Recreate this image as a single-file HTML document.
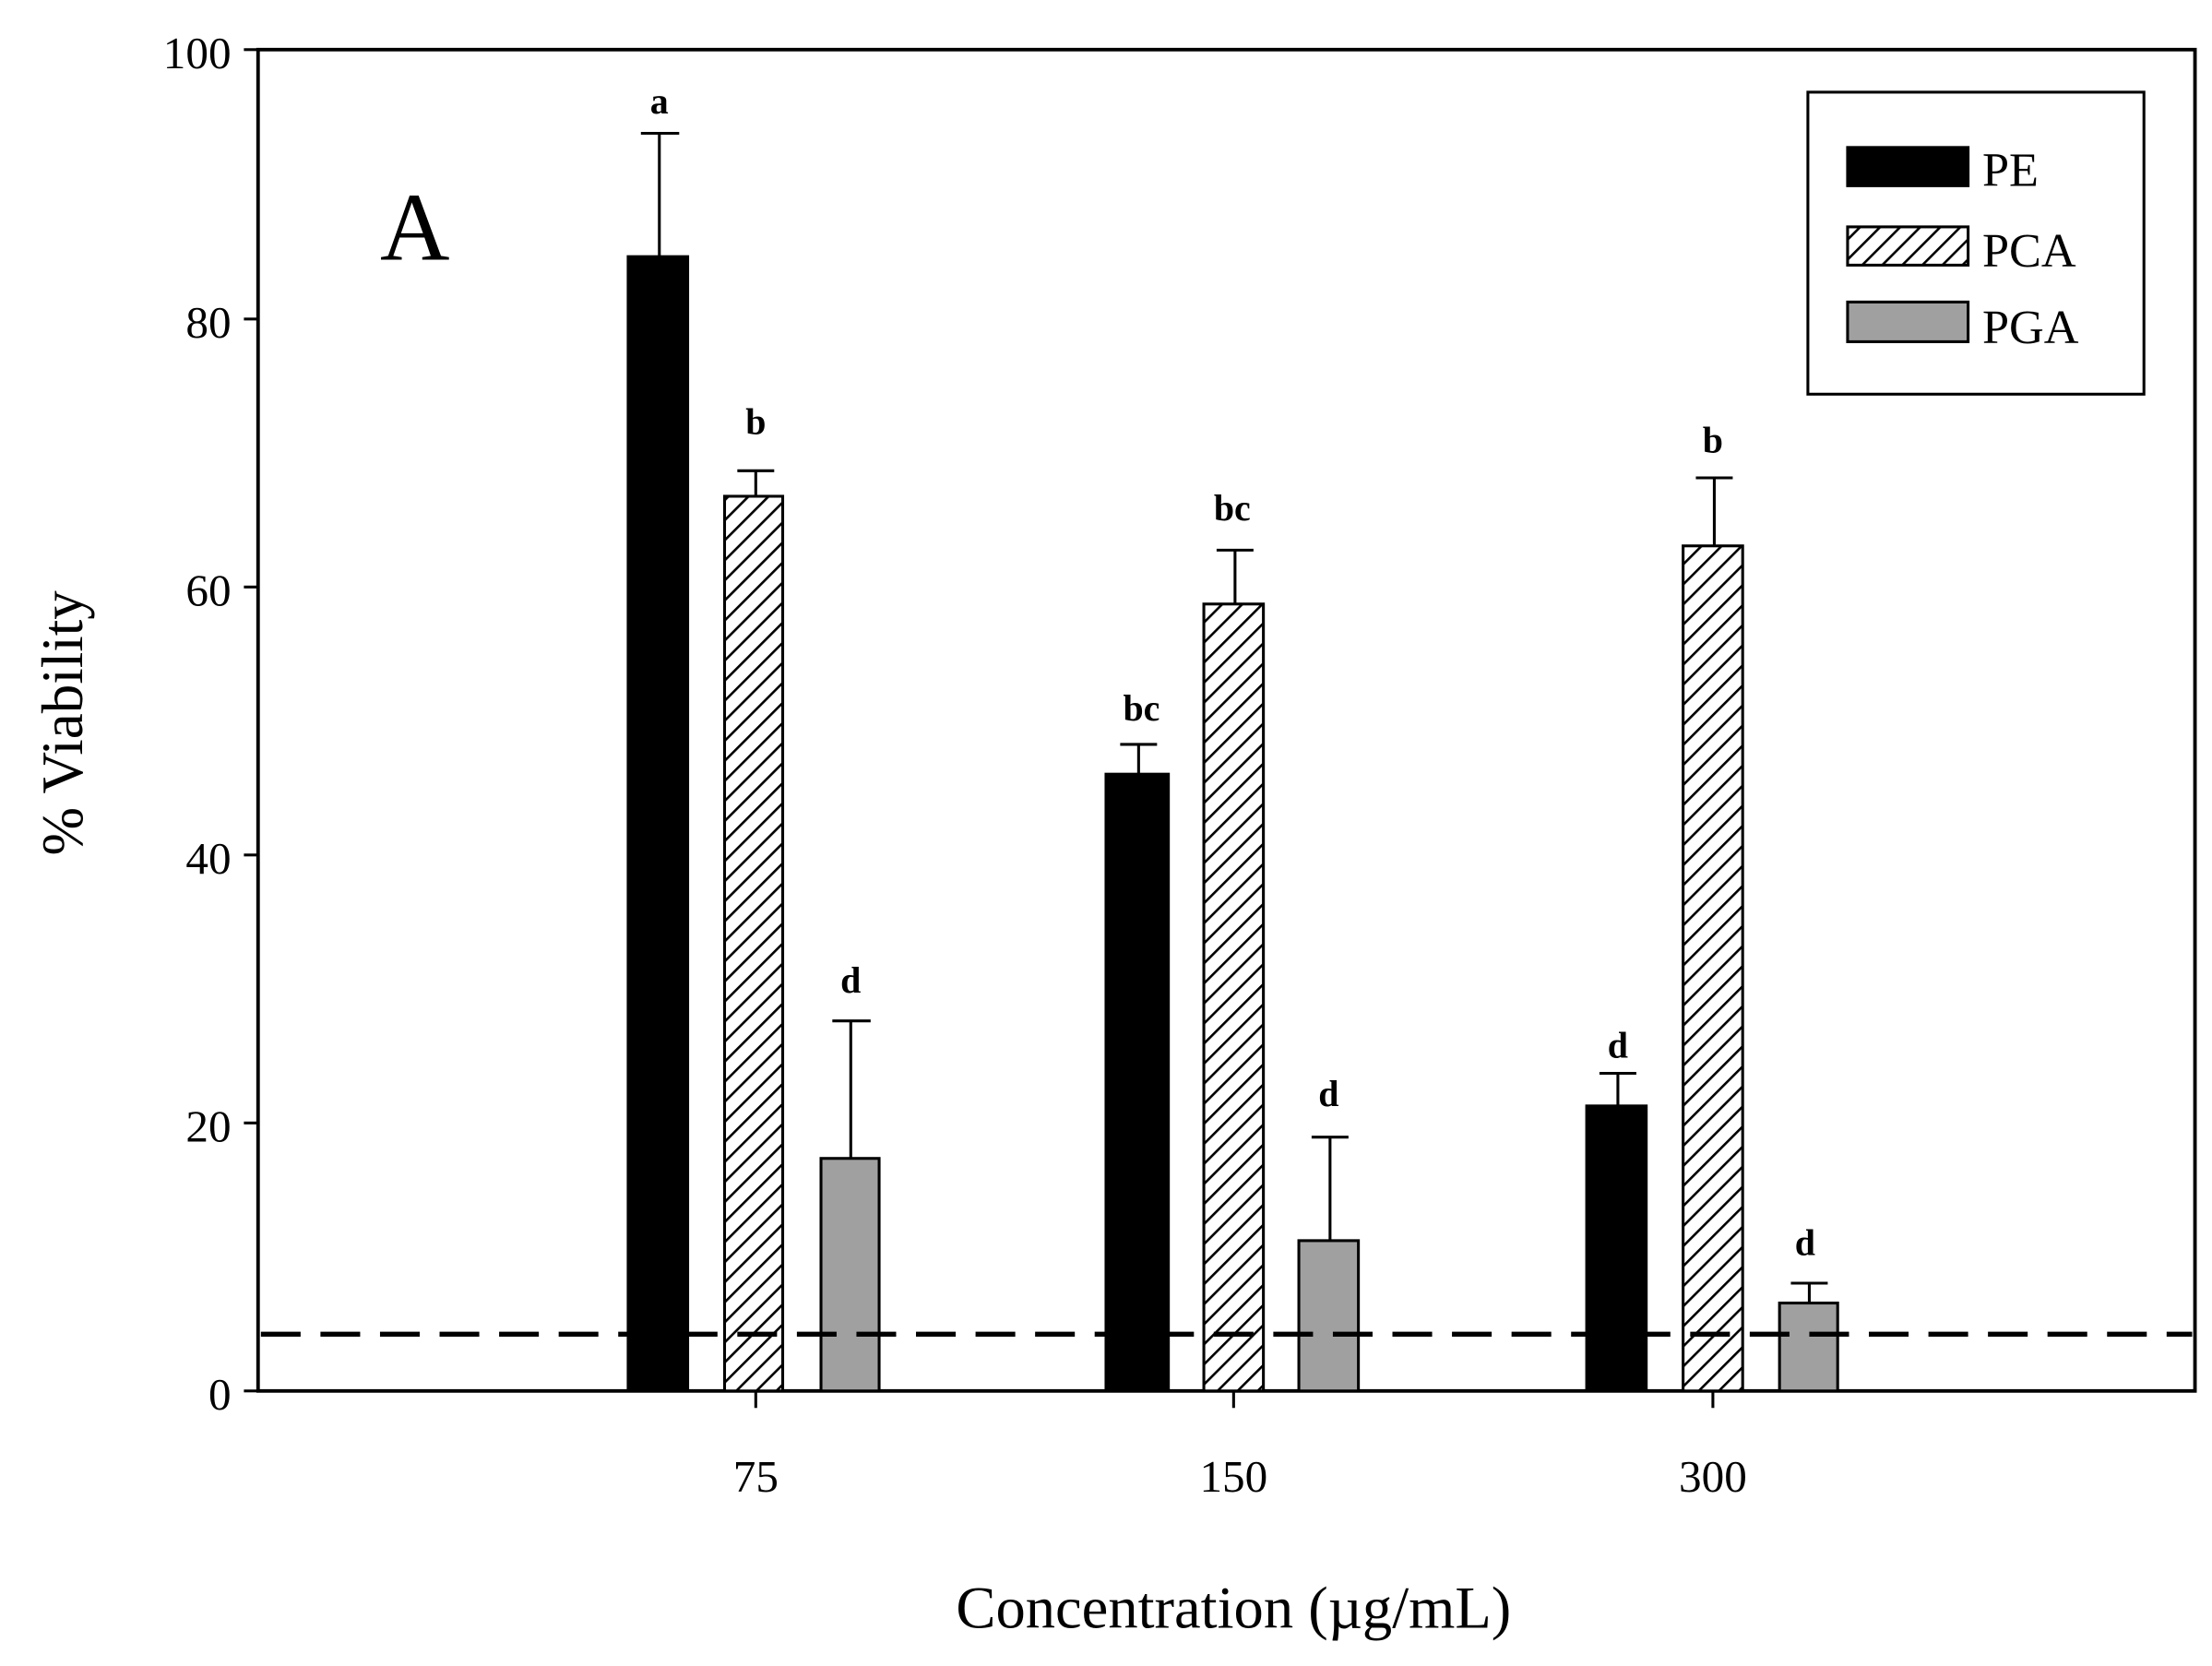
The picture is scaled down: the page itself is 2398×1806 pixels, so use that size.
<!DOCTYPE html>
<html><head><meta charset="utf-8"><style>
html,body{margin:0;padding:0;background:#fff;}
svg{display:block;}
text{font-family:"Liberation Serif",serif;fill:#000;}
</style></head><body>
<svg width="2398" height="1806" viewBox="0 0 1560 1175" preserveAspectRatio="none" xmlns="http://www.w3.org/2000/svg">
<defs>
<pattern id="h" patternUnits="userSpaceOnUse" width="10" height="10" patternTransform="rotate(45)">
<rect width="10" height="10" fill="#fff"/>
<line x1="0" y1="0" x2="0" y2="10" stroke="#000" stroke-width="3.4"/>
</pattern>
</defs>
<rect width="1560" height="1175" fill="#fff"/>
<rect x="182" y="35" width="1366" height="946" fill="none" stroke="#000" stroke-width="2.5"/>
<g stroke="#000" stroke-width="2">
<line x1="172" y1="981" x2="182" y2="981"/><line x1="172" y1="792" x2="182" y2="792"/>
<line x1="172" y1="603" x2="182" y2="603"/><line x1="172" y1="414" x2="182" y2="414"/>
<line x1="172" y1="225" x2="182" y2="225"/><line x1="172" y1="35" x2="182" y2="35"/>
<line x1="533" y1="981" x2="533" y2="993"/><line x1="870" y1="981" x2="870" y2="993"/><line x1="1208" y1="981" x2="1208" y2="993"/>
</g>
<g font-size="32" text-anchor="end">
<text x="163" y="994">0</text><text x="163" y="805">20</text><text x="163" y="616">40</text>
<text x="163" y="427">60</text><text x="163" y="238">80</text><text x="163" y="48">100</text>
</g>
<g font-size="32" text-anchor="middle">
<text x="533" y="1052">75</text><text x="870" y="1052">150</text><text x="1208" y="1052">300</text>
</g>
<text x="870" y="1148" font-size="42" text-anchor="middle">Concentration (µg/mL)</text>
<text transform="translate(58,510) rotate(-90)" font-size="41" text-anchor="middle">% Viability</text>
<text x="268" y="183" font-size="68">A</text>
<g stroke="#000" stroke-width="2">
<line x1="465" y1="94" x2="465" y2="181"/><line x1="452" y1="94" x2="479" y2="94"/>
<line x1="533" y1="332" x2="533" y2="350"/><line x1="520" y1="332" x2="546" y2="332"/>
<line x1="600" y1="720" x2="600" y2="817"/><line x1="587" y1="720" x2="614" y2="720"/>
<line x1="803" y1="525" x2="803" y2="546"/><line x1="790" y1="525" x2="816" y2="525"/>
<line x1="871" y1="388" x2="871" y2="426"/><line x1="858" y1="388" x2="884" y2="388"/>
<line x1="938" y1="802" x2="938" y2="875"/><line x1="925" y1="802" x2="951" y2="802"/>
<line x1="1141" y1="757" x2="1141" y2="780"/><line x1="1128" y1="757" x2="1154" y2="757"/>
<line x1="1209" y1="337" x2="1209" y2="385"/><line x1="1196" y1="337" x2="1222" y2="337"/>
<line x1="1276" y1="905" x2="1276" y2="919"/><line x1="1263" y1="905" x2="1289" y2="905"/>
</g>
<g stroke="#000" stroke-width="2">
<rect x="443" y="181" width="42" height="800" fill="#000"/>
<rect x="511" y="350" width="41" height="631" fill="url(#h)"/>
<rect x="579" y="817" width="41" height="164" fill="#a0a0a0"/>
<rect x="780" y="546" width="44" height="435" fill="#000"/>
<rect x="849" y="426" width="42" height="555" fill="url(#h)"/>
<rect x="916" y="875" width="42" height="106" fill="#a0a0a0"/>
<rect x="1119" y="780" width="42" height="201" fill="#000"/>
<rect x="1187" y="385" width="42" height="596" fill="url(#h)"/>
<rect x="1255" y="919" width="41" height="62" fill="#a0a0a0"/>
</g>
<line x1="184" y1="941" x2="1546" y2="941" stroke="#000" stroke-width="3.5" stroke-dasharray="28,14"/>
<g font-size="26" font-weight="bold" text-anchor="middle">
<text x="465" y="80">a</text><text x="533" y="306">b</text><text x="600" y="700">d</text>
<text x="805" y="508">bc</text><text x="869" y="367">bc</text><text x="937" y="780">d</text>
<text x="1141" y="746">d</text><text x="1208" y="319">b</text><text x="1273" y="885">d</text>
</g>
<rect x="1275" y="65" width="237" height="213" fill="#fff" stroke="#000" stroke-width="2"/>
<rect x="1303" y="104" width="85" height="27" fill="#000" stroke="#000" stroke-width="2"/>
<rect x="1303" y="160" width="85" height="27" fill="url(#h)" stroke="#000" stroke-width="2"/>
<rect x="1303" y="213" width="85" height="28" fill="#a0a0a0" stroke="#000" stroke-width="2"/>
<g font-size="34">
<text x="1398" y="131">PE</text><text x="1398" y="188">PCA</text><text x="1398" y="242">PGA</text>
</g>
</svg>
</body></html>
